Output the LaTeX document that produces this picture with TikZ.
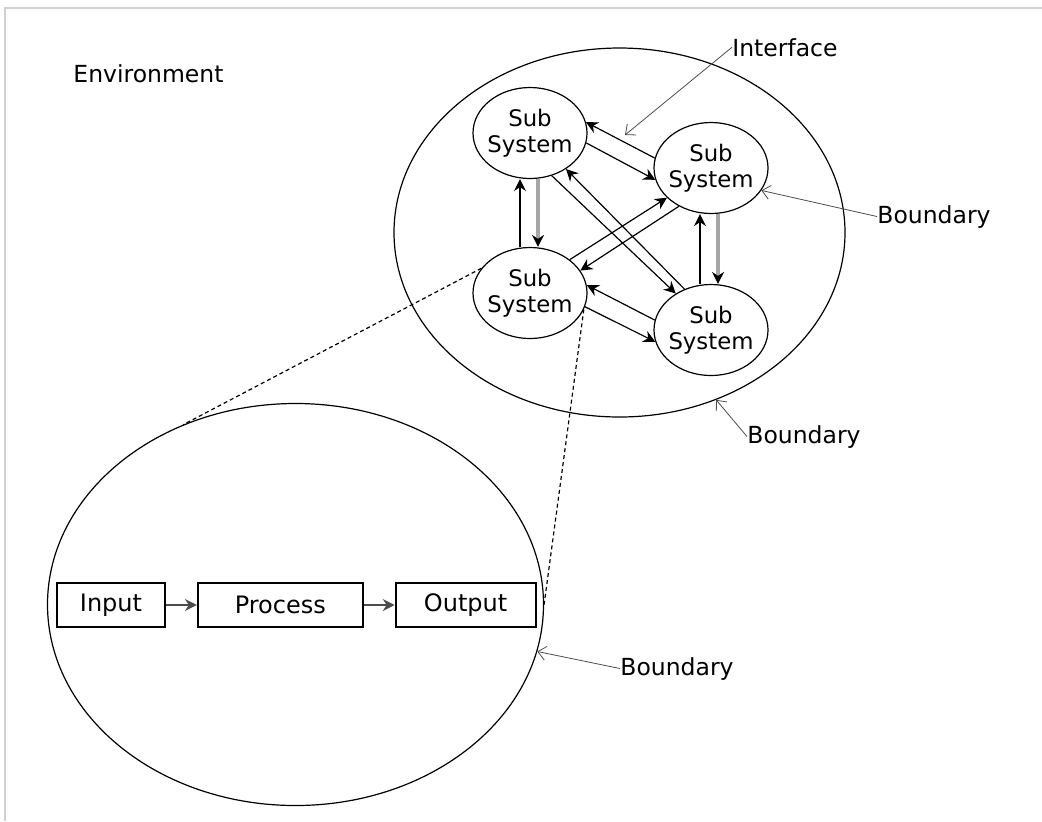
\documentclass[tikz,border=0pt]{standalone}
\usepackage{fontspec}
\setmainfont{DejaVu Sans}
\usetikzlibrary{shapes.geometric,arrows.meta,positioning}

\tikzset{
    subsys/.style={draw, ellipse, line width=0.6pt, minimum width=57pt, minimum height=45.5pt,
        inner sep=-2pt, align=center, font=\fontsize{11.4}{13}\selectfont},
    bigoval/.style={draw, ellipse, line width=0.6pt, inner sep=0pt},
    flow/.style={-{Stealth[length=6pt,width=6pt,inset=2pt]}, line width=0.6pt},
    grayflow/.style={-{Stealth[length=6pt,width=6pt,inset=2pt,black]}, line width=1.6pt, black!35},
    pointer/.style={-{Straight Barb[length=4pt,width=7pt]}, line width=0.4pt, black!70},
    tagtext/.style={font=\fontsize{11.75}{14}\selectfont, inner sep=0pt, anchor=base west},
    block/.style={draw, line width=0.9pt, minimum height=22pt, inner sep=0pt,
        font=\fontsize{12}{14}\selectfont},
    zoomline/.style={dash pattern=on 2pt off 1.5pt, line width=0.6pt},
}

\begin{document}
\begin{tikzpicture}[x=0.5pt, y=-0.5pt]  % one unit is one pixel of the page, y runs down
    \useasboundingbox (0,0) rectangle (1042,821);

    % Draw the page frame
    \draw[black!18, line width=0.6pt] (1042,8) -- (5,8) -- (5,821);

    % Draw the system with its four sub systems
    \node[bigoval, minimum width=225.5pt, minimum height=184.5pt] (sys) at (619.5,232.5) {};
    \node[subsys] (ss1) at (530,133) {Sub\\System};
    \node[subsys] (ss2) at (711,168) {Sub\\System};
    \node[subsys] (ss3) at (530,293) {Sub\\System};
    \node[subsys] (ss4) at (711,330) {Sub\\System};

    % Arrows between the sub systems
    \draw[flow] (ss2.170) -- (ss1.11);
    \draw[flow] (ss1.-10) -- (ss2.192);
    \draw[flow] (ss1.-63) -- (ss4.134);
    \draw[flow] (ss4.123) -- (ss1.-45);
    \draw[flow] (ss3.40) -- (ss2.214);
    \draw[flow] (ss2.230) -- (ss3.24);
    \draw[flow] (ss4.170) -- (ss3.8);
    \draw[flow] (ss3.-14) -- (ss4.192);
    \draw[flow] ([xshift=-5pt]ss3.north) -- ([xshift=-5pt]ss1.south);
    \draw[grayflow] ([xshift=4pt]ss1.south) -- ([xshift=4pt]ss3.north);
    \draw[flow] ([xshift=-5.5pt]ss4.north) -- ([xshift=-5.5pt]ss2.south);
    \draw[grayflow] ([xshift=3.5pt]ss2.south) -- ([xshift=3.5pt]ss4.north);

    % Zoomed sub system
    \node[bigoval, minimum width=248pt, minimum height=201pt] (sub) at (295.5,604.5) {};
    \draw[zoomline] (ss3.153) -- (sub.122);
    \draw[zoomline] (ss3.-17) -- (sub.east);

    \node[block, minimum width=54pt] (input) at (111,605) {Input};
    \node[block, minimum width=82.5pt, right=15.5pt of input] (process) {Process};
    \node[block, minimum width=70pt, right=15.5pt of process] (output) {Output};
    \draw[flow, black!70] (input) -- (process);
    \draw[flow, black!70] (process) -- (output);

    % Labels and their pointers
    \node[tagtext] (env) at (73,82) {Environment};
    \node[tagtext] (iface) at (732,56) {Interface};
    \node[tagtext] (bd1) at (877,223) {Boundary};
    \node[tagtext] (bd2) at (747,443) {Boundary};
    \node[tagtext] (bd3) at (620,675) {Boundary};
    \coordinate (gap) at (625,135);

    \draw[pointer] (iface.west) -- (gap);
    \draw[pointer] (bd1.west) -- (ss2.-24);
    \draw[pointer] (bd2.west) -- (sys.-60);
    \draw[pointer] (bd3.west) -- (sub.-11);

\end{tikzpicture}
\end{document}
